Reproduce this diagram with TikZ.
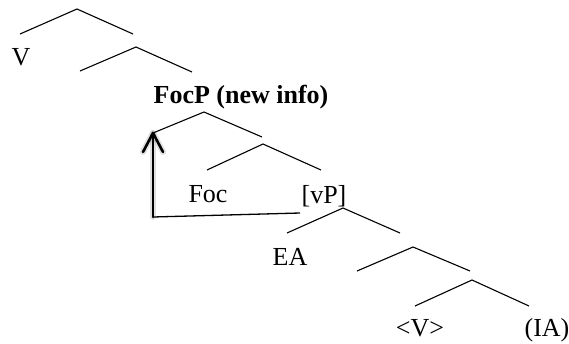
\documentclass[tikz,border=0pt]{standalone}
\usepackage{fontspec}
\setmainfont{Liberation Serif}
\begin{document}
\begin{tikzpicture}[x=1pt,y=-1pt,
  branch/.style={draw=black,line width=1.1pt},
  lbl/.style={inner sep=0pt,anchor=base,font=\fontsize{26}{31}\selectfont},
  movearrow/.style={line width=2.6pt,line cap=round,line join=round},
  glow/.style={line width=6pt,line cap=round,line join=round,draw=black,opacity=0.12}]
\useasboundingbox (0,0) rectangle (569,343);

% branching points and their daughters
\coordinate (a1) at (77,9);   \coordinate (l1) at (20,34);   \coordinate (r1) at (133,34);
\coordinate (a2) at (136,47); \coordinate (l2) at (80,71);   \coordinate (r2) at (192,72);
\coordinate (a3) at (204,112);\coordinate (l3) at (153,133); \coordinate (r3) at (262,137);
\coordinate (a4) at (263,144);\coordinate (l4) at (207,170); \coordinate (r4) at (321,170);
\coordinate (a5) at (343,208);\coordinate (l5) at (287,233); \coordinate (r5) at (400,233);
\coordinate (a6) at (413,247);\coordinate (l6) at (357,271); \coordinate (r6) at (470,271);
\coordinate (a7) at (472,280);\coordinate (l7) at (415,306); \coordinate (r7) at (529,306);

\foreach \i in {1,...,7} {
  \draw[branch] (l\i) -- (a\i) -- (r\i);
}

% labels
\node[lbl] (v)    at (21,65)   {V};
\node[lbl] (focp) at (241,103) {\bfseries FocP (new info)};
\node[lbl] (foc)  at (208,202) {Foc};
\node[lbl] (vp)   at (324,203) {[vP]};
\node[lbl] (ea)   at (290,265) {EA};
\node[lbl] (vt)   at (420,336) {<V>};
\node[lbl] (ia)   at (547,336) {(IA)};

% movement path
\coordinate (base) at (153,217);
\coordinate (tail) at (300,213);
\coordinate (tip)  at (153,133);
\coordinate (wl)   at (143,152);
\coordinate (wr)   at (163,152);
\draw[line width=1.3pt] (base) -- (tail);
\draw[glow] (base) -- (tip);
\draw[glow] (wl) -- (tip) -- (wr);
\draw[movearrow] (base) -- (tip);
\draw[movearrow] (wl) -- (tip) -- (wr);
\end{tikzpicture}
\end{document}
